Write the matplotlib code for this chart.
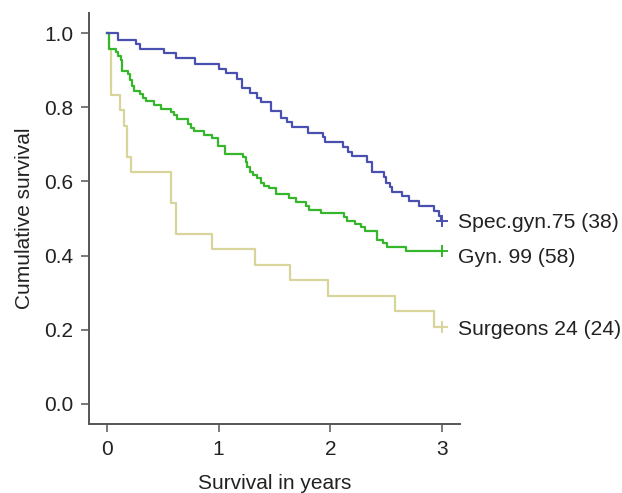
import matplotlib
matplotlib.use("Agg")
import matplotlib.pyplot as plt

plt.rcParams['font.family'] = ['Liberation Sans', 'DejaVu Sans']

# Kaplan-Meier steps (years, cumulative survival)
spec_t = [0, 0.10, 0.26, 0.30, 0.51, 0.62, 0.79, 1.00, 1.07, 1.16,
          1.21, 1.28, 1.34, 1.38, 1.47, 1.56, 1.61, 1.66, 1.80, 1.93,
          1.95, 2.11, 2.16, 2.19, 2.33, 2.37, 2.48, 2.50, 2.53, 2.55,
          2.64, 2.70, 2.79, 2.93, 2.97, 2.99, 3.0]
spec_s = [1.0, 0.981, 0.970, 0.957, 0.945, 0.933, 0.916, 0.903, 0.891, 0.876,
          0.851, 0.838, 0.826, 0.813, 0.790, 0.772, 0.759, 0.748, 0.730, 0.719,
          0.705, 0.692, 0.680, 0.668, 0.653, 0.626, 0.613, 0.597, 0.586, 0.572,
          0.561, 0.548, 0.534, 0.520, 0.507, 0.493, 0.493]

gyn_t = [0, 0.015, 0.08, 0.10, 0.125, 0.134, 0.19, 0.206, 0.224, 0.242,
         0.30, 0.32, 0.346, 0.42, 0.48, 0.573, 0.60, 0.624, 0.728, 0.752,
         0.782, 0.871, 0.943, 0.994, 1.056, 1.215, 1.242, 1.256, 1.28, 1.31,
         1.34, 1.379, 1.406, 1.45, 1.51, 1.627, 1.69, 1.78, 1.81, 1.92,
         2.125, 2.15, 2.22, 2.27, 2.31, 2.42, 2.468, 2.504, 2.677, 3.0]
gyn_s = [1.0, 0.957, 0.948, 0.939, 0.927, 0.898, 0.889, 0.873, 0.857, 0.844,
         0.835, 0.826, 0.816, 0.805, 0.796, 0.787, 0.778, 0.767, 0.756, 0.745,
         0.736, 0.725, 0.716, 0.695, 0.675, 0.665, 0.653, 0.640, 0.626, 0.617,
         0.608, 0.597, 0.588, 0.581, 0.566, 0.554, 0.544, 0.535, 0.523, 0.516,
         0.505, 0.493, 0.485, 0.476, 0.466, 0.442, 0.435, 0.422, 0.413, 0.413]

surg_t = [0, 0.02, 0.033, 0.04, 0.116, 0.155, 0.176, 0.22, 0.573, 0.618,
          0.94, 1.328, 1.638, 1.98, 2.578, 2.93, 3.0]
surg_s = [1.0, 0.958, 0.917, 0.833, 0.792, 0.750, 0.667, 0.625, 0.542, 0.458,
          0.417, 0.375, 0.333, 0.292, 0.250, 0.208, 0.208]

labels = ["Surgeons 24 (24)", "Gyn. 99 (58)", "Spec.gyn.75 (38)"]
colors = ["#d8d49b", "#36b62a", "#4a50b0"]

fig = plt.figure(figsize=(6.22, 4.93), dpi=100)
ax = fig.add_axes([0.1431, 0.140, 0.5965, 0.8336])

groups = [(surg_t, surg_s), (gyn_t, gyn_s), (spec_t, spec_s)]
label_y = [0.200, 0.396, 0.488]
for (t, s), lab, c, ly in zip(groups, labels, colors, label_y):
    ax.step(t, s, where='post', color=c, lw=1.6)
    ax.plot(t[-1], s[-1], marker='+', color=c, ms=9, mew=1.4)
    ax.text(3.14, ly, lab, fontsize=15.2, va='center', ha='left', color='#222222')

ax.set_xlim(-0.16, 3.16)
ax.set_ylim(-0.054, 1.054)
ax.set_xticks([0, 1, 2, 3])
ax.set_yticks([0.0, 0.2, 0.4, 0.6, 0.8, 1.0])
ax.set_yticklabels(["0.0", "0.2", "0.4", "0.6", "0.8", "1.0"])
ax.tick_params(direction='out', length=5.5, width=1.1, color='#555555',
               labelsize=15, labelcolor='#222222', pad=6)

for side in ['top', 'right']:
    ax.spines[side].set_visible(False)
for side in ['left', 'bottom']:
    ax.spines[side].set_color('#555555')
    ax.spines[side].set_linewidth(1.4)

ax.set_xlabel("Survival in years", fontsize=15, color='#222222', labelpad=11)
ax.set_ylabel("Cumulative survival", fontsize=15, color='#222222', labelpad=7)

fig.savefig("out.png", dpi=100)
